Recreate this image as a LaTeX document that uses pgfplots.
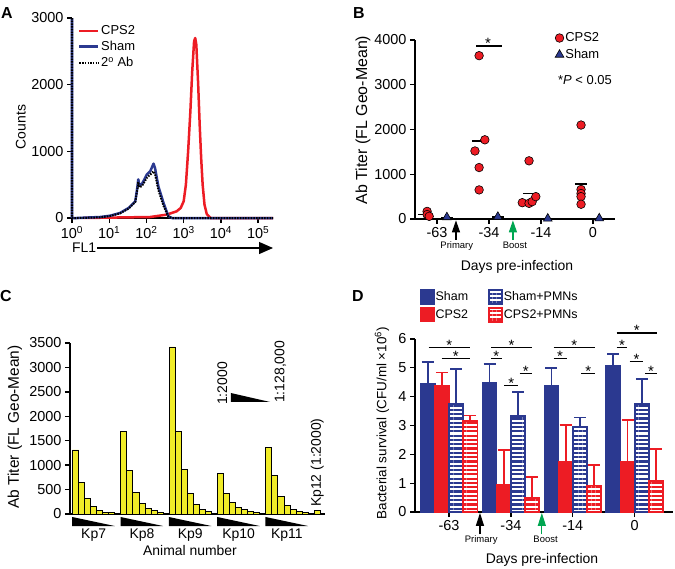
\documentclass[border=0pt]{standalone}
\usepackage{fontspec}
\setmainfont{Liberation Sans}
\usepackage{pgfplots}
\pgfplotsset{compat=1.18}
\usetikzlibrary{arrows.meta,patterns.meta}
\definecolor{cblue}{RGB}{43,57,144}
\definecolor{cred}{RGB}{237,28,36}
\definecolor{cgreen}{RGB}{0,166,81}
\definecolor{cyel}{RGB}{240,236,40}
\newcommand{\fs}[1]{\fontsize{#1}{#1}\selectfont}
% significance bar: x1, x2, y
\newcommand{\sig}[3]{%
  \draw[line width=1.2bp] (axis cs:#1,#3) -- (axis cs:#2,#3);
  \node[anchor=base, inner sep=0pt, font=\fs{15}, yshift=-3bp] at (axis cs:{(#1+#2)/2},#3) {*};}
% dilution wedge + animal label under a group starting at #1
\newcommand{\dilwedge}[2]{%
  \fill (axis cs:#1-0.55,-61) -- (axis cs:#1-0.55,-246) -- (axis cs:#1+6.5,-246) -- cycle;
  \node[font=\fs{14}] at (axis cs:#1+3,-440) {#2};}

\pgfplotsset{
  prism/.style={
    scale only axis, clip=false,
    axis lines=left, axis line style={-, line width=1.8bp},
    tick align=outside, major tick length=5bp,
    tick style={black, line width=1.3bp},
    minor tick num=0,
    tick label style={font=\fs{14.5}},
    /pgf/number format/assume math mode=true,
    /pgf/number format/1000 sep={},
    label style={font=\fs{14}},
  },
  hatch/.style={pattern={Lines[angle=0,distance=4.3bp,line width=2.2bp]}, pattern color=#1},
  legbox/.style={legend image code/.code={\draw[##1] (0bp,-7bp) rectangle (13bp,7bp);}},
  errs/.style={draw=none, mark=none, forget plot,
    error bars/.cd, y dir=plus, y explicit,
    error bar style={draw=#1, line width=1.8bp},
    error mark options={rotate=90, draw=#1, mark size=6bp, line width=1.8bp}},
}

\begin{document}
\begin{tikzpicture}
\path[use as bounding box] (0,0) rectangle (675bp,-569bp);

% ---------------- A ----------------
\begin{axis}[prism, at={(72bp,-218bp)}, anchor=south west, width=201bp, height=200bp,
  xmode=log, xmin=1, xmax=251189, ymin=0, ymax=3000,
  xtick={1,10,100,1000,10000,100000},
  xticklabels={10\textsuperscript{0},10\textsuperscript{1},10\textsuperscript{2},10\textsuperscript{3},10\textsuperscript{4},10\textsuperscript{5}},
  xminorticks=false,
  ytick={0,1000,2000,3000},
  ylabel={Counts}, ylabel style={at={(axis description cs:-0.255,0.455)}, anchor=center},
  legend cell align=left,
  legend image code/.code={\draw[#1] (0bp,0bp) -- (19bp,0bp);},
  legend style={at={(axis description cs:0.03,0.97)}, anchor=north west, draw=none, fill=none,
    inner sep=0pt, font=\fs{13}, row sep=2bp, nodes={inner sep=1.5bp}},
]
\addplot[cred, line width=2.5bp, line join=round] coordinates {
(2.04,0)(126,15)(347,50)(646,100)(832,150)(1000,250)(1148,500)(1318,1000)(1514,1600)
(1698,2200)(1905,2650)(2042,2700)(2188,2600)(2455,2000)(2692,1400)(2951,900)(3236,500)
(3631,200)(4169,60)(5248,0)(251189,0)};
\addlegendentry{CPS2}
\addplot[cblue, line width=2.5bp, line join=round] coordinates {
(1,3000)(1,0)(1.35,0)(5.75,15)(10.7,35)(19.5,75)(33.1,150)(50.1,250)(57.5,475)(60.3,580)
(64.6,490)(75.9,510)(102,650)(126,700)(138,750)(155,815)(170,750)(209,475)(288,225)
(389,25)(479,0)(251189,0)};
\addlegendentry{Sham}
\addplot[black, line width=2bp, dash pattern=on 1.5bp off 1.2bp] coordinates {
(1,3000)(1,0)(1.5,0)(5.75,10)(10.7,30)(19.5,70)(33.1,140)(50.1,240)(57.5,440)(60.3,540)
(64.6,460)(75.9,480)(102,600)(126,650)(155,700)(170,660)(209,420)(288,180)(389,20)
(479,0)(251189,0)};
\addlegendentry{2\textsuperscript{o} Ab}
\end{axis}
\node[anchor=west, font=\fs{14}, inner sep=0pt] at (72bp,-248bp) {FL1};
\draw[line width=1.2bp, -{Triangle[length=14bp,width=12bp]}] (97bp,-248bp) -- (273bp,-248bp);

% ---------------- B ----------------
\begin{axis}[prism, at={(415bp,-219bp)}, anchor=south west, width=200bp, height=179bp,
  xmin=-0.423, xmax=3.423, ymin=0, ymax=4000,
  xtick={0,1,2,3}, xticklabels={-63,-34,-14,0},
  ytick={0,1000,2000,3000,4000},
  ylabel={Ab Titer (FL Geo-Mean)},
  ylabel style={font=\fs{16}, at={(axis description cs:-0.26,0.553)}, anchor=center},
  legend cell align=left,
  legend style={at={(axis description cs:0.70,1.05)}, anchor=north west, draw=none, fill=none,
    inner sep=0pt, font=\fs{13}, row sep=3bp, nodes={inner sep=1.5bp}},
]
\addplot[black, line width=1.3bp, forget plot] coordinates {(-0.37,105)(-0.08,105)};
\addplot[black, line width=1.3bp, forget plot] coordinates {(0.67,1746)(0.90,1746)};
\addplot[black, line width=1.3bp, forget plot] coordinates {(1.65,575)(1.90,575)};
\addplot[black, line width=1.3bp, forget plot] coordinates {(2.65,784)(2.88,784)};
\addplot[black, line width=1.3bp, forget plot] coordinates {(0.08,40)(0.30,40)};
\addplot[black, line width=1.3bp, forget plot] coordinates {(1.06,45)(1.28,45)};
\addplot[black, line width=1.3bp, forget plot] coordinates {(2.02,10)(2.24,10)};
\addplot[black, line width=1.3bp, forget plot] coordinates {(3.01,12)(3.23,12)};
\addplot[only marks, mark=*, mark size=4.3bp, mark options={fill=cred, draw=black, line width=0.6bp}] coordinates {
(-0.19,170)(-0.19,100)(-0.15,60)
(0.81,3650)(0.92,1770)(0.73,1520)(0.81,1150)(0.81,650)
(1.64,365)(1.77,1300)(1.77,350)(1.83,388)(1.90,500)
(2.77,2100)(2.77,660)(2.77,570)(2.77,500)(2.77,330)};
\addlegendentry{CPS2}
\addplot[only marks, mark=triangle*, mark size=5bp, mark options={fill=cblue, draw=black, line width=0.6bp}] coordinates {
(0.19,40)(1.17,50)(2.13,10)(3.12,15)};
\addlegendentry{Sham}
\draw[line width=1.2bp] (axis cs:0.75,3866) -- (axis cs:1.25,3866);
\node[anchor=base, inner sep=0pt, font=\fs{15}, yshift=-3bp] at (axis cs:0.98,3866) {*};
\node[anchor=west, inner sep=0pt, font=\fs{13}] at (axis description cs:0.715,0.777) {*\textit{P} < 0.05};
\draw[line width=1.2bp, -{Triangle[width=8bp,length=12bp]}] (axis cs:0.365,-469) -- (axis cs:0.365,-30);
\node[font=\fs{9.5}, anchor=north, inner sep=0pt] at (axis cs:0.38,-500) {Primary};
\draw[cgreen, line width=1.2bp, -{Triangle[width=8bp,length=12bp]}] (axis cs:1.46,-469) -- (axis cs:1.46,-30);
\node[font=\fs{9.5}, anchor=north, inner sep=0pt] at (axis cs:1.50,-500) {Boost};
\end{axis}
\node[font=\fs{14}] at (517bp,-267bp) {Days pre-infection};

% ---------------- C ----------------
\begin{axis}[prism, at={(70bp,-514bp)}, anchor=south west, width=255bp, height=171bp,
  xmin=-0.91, xmax=41.3, ymin=0, ymax=3500,
  xtick=\empty, ytick={0,500,...,3500},
  ylabel={Ab Titer (FL Geo-Mean)},
  ylabel style={font=\fs{15.5}, at={(axis description cs:-0.216,0.509)}, anchor=center},
]
\addplot[ybar, bar width=1, bar shift=0, fill=cyel, draw=black, line width=0.8bp] coordinates {
(0,1312)(1,653)(2,326)(3,156)(4,75)(5,41)(6,27)
(8,1686)(9,890)(10,449)(11,224)(12,116)(13,68)(14,41)
(16,3420)(17,1686)(18,918)(19,428)(20,197)(21,102)(22,61)
(24,822)(25,428)(26,245)(27,136)(28,88)(29,61)(30,41)
(32,1360)(33,782)(34,360)(35,177)(36,88)(37,48)(38,34)
(40,75)};
\dilwedge{0}{Kp7}
\dilwedge{8}{Kp8}
\dilwedge{16}{Kp9}
\dilwedge{24}{Kp10}
\dilwedge{32}{Kp11}
\fill (axis cs:25.7,2477) -- (axis cs:25.7,2293) -- (axis cs:32.2,2293) -- cycle;
\node[rotate=90, anchor=west, inner sep=0pt, font=\fs{14}] at (axis cs:24.3,2231) {1:2000};
\node[rotate=90, anchor=west, inner sep=0pt, font=\fs{14}] at (axis cs:33.9,2272) {1:128,000};
\node[rotate=90, anchor=west, inner sep=0pt, font=\fs{14}] at (axis cs:40,143) {Kp12 (1:2000)};
\end{axis}
\node[font=\fs{14}] at (190bp,-551bp) {Animal number};

% ---------------- D ----------------
\begin{axis}[prism, at={(415bp,-512bp)}, anchor=south west, width=258bp, height=173bp,
  xmin=-0.55, xmax=3.62, ymin=0, ymax=6,
  xtick={0,1,2,3}, xticklabels={-63,-34,-14,0},
  ytick={0,1,2,3,4,5,6},
  ylabel={Bacterial survival (CFU/ml ×10\textsuperscript{6})},
  ylabel style={font=\fs{13.5}, at={(axis description cs:-0.128,0.514)}, anchor=center},
  legend cell align=left, legend columns=2, transpose legend,
  legend style={at={(axis description cs:0.019,1.29)}, anchor=north west, draw=none, fill=none,
    inner sep=0pt, font=\fs{12.5}, row sep=2bp, nodes={inner sep=1bp},
    /tikz/column 2/.style={column sep=19bp}},
]
\addplot[ybar, bar width=0.23, bar shift=-0.345, fill=cblue, draw=cblue, line width=1.5bp, legbox]
  coordinates {(0,4.45) (1,4.47) (2,4.38) (3,5.07)};
\addlegendentry{Sham}
\addplot[ybar, bar width=0.23, bar shift=-0.115, fill=cred, draw=cred, line width=1.5bp, legbox]
  coordinates {(0,4.39) (1,0.95) (2,1.73) (3,1.73)};
\addlegendentry{CPS2}
\addplot[ybar, bar width=0.23, bar shift=0.115, hatch=cblue, draw=cblue, line width=1.8bp, legbox]
  coordinates {(0,3.75) (1,3.32) (2,2.94) (3,3.75)};
\addlegendentry{Sham+PMNs}
\addplot[ybar, bar width=0.23, bar shift=0.345, hatch=cred, draw=cred, line width=1.8bp, legbox]
  coordinates {(0,3.17) (1,0.49) (2,0.92) (3,1.07)};
\addlegendentry{CPS2+PMNs}
% upper error bars, at the bar centres
\addplot[errs=cblue] coordinates {(-0.345,4.45)+-(0,0.74) (0.655,4.47)+-(0,0.66) (1.655,4.38)+-(0,0.62) (2.655,5.07)+-(0,0.42)};
\addplot[errs=cred] coordinates {(-0.115,4.39)+-(0,0.45) (0.885,0.95)+-(0,1.19) (1.885,1.73)+-(0,1.30) (2.885,1.73)+-(0,1.45)};
\addplot[errs=cblue] coordinates {(0.115,3.75)+-(0,1.21) (1.115,3.32)+-(0,0.83) (2.115,2.94)+-(0,0.34) (3.115,3.75)+-(0,0.86)};
\addplot[errs=cred] coordinates {(0.345,3.17)+-(0,0.18) (1.345,0.49)+-(0,0.73) (2.345,0.92)+-(0,0.72) (3.345,1.07)+-(0,1.12)};
\sig{-0.33}{0.34}{5.71}
\sig{-0.12}{0.34}{5.32}
\sig{0.68}{0.85}{5.32}
\sig{0.68}{1.34}{5.71}
\sig{0.89}{1.12}{4.38}
\sig{1.14}{1.34}{4.80}
\sig{1.69}{1.90}{5.32}
\sig{1.69}{2.36}{5.71}
\sig{2.14}{2.36}{4.80}
\sig{2.71}{3.36}{6.21}
\sig{2.71}{2.88}{5.71}
\sig{2.92}{3.14}{5.23}
\sig{3.17}{3.36}{4.80}
\draw[line width=1.2bp, -{Triangle[width=8bp,length=13bp]}] (axis cs:0.50,-0.78) -- (axis cs:0.50,-0.03);
\node[font=\fs{9.5}, anchor=north, inner sep=0pt] at (axis cs:0.52,-0.83) {Primary};
\draw[cgreen, line width=1.2bp, -{Triangle[width=8bp,length=13bp]}] (axis cs:1.50,-0.78) -- (axis cs:1.50,-0.03);
\node[font=\fs{9.5}, anchor=north, inner sep=0pt] at (axis cs:1.56,-0.83) {Boost};
\end{axis}
\node[font=\fs{14}] at (542bp,-560bp) {Days pre-infection};

% panel letters
\node[anchor=north west, inner sep=0pt, font=\bfseries\fs{16}] at (1bp,-7bp) {A};
\node[anchor=north west, inner sep=0pt, font=\bfseries\fs{16}] at (353bp,-7bp) {B};
\node[anchor=north west, inner sep=0pt, font=\bfseries\fs{16}] at (0bp,-290bp) {C};
\node[anchor=north west, inner sep=0pt, font=\bfseries\fs{16}] at (352bp,-290bp) {D};
\end{tikzpicture}
\end{document}
